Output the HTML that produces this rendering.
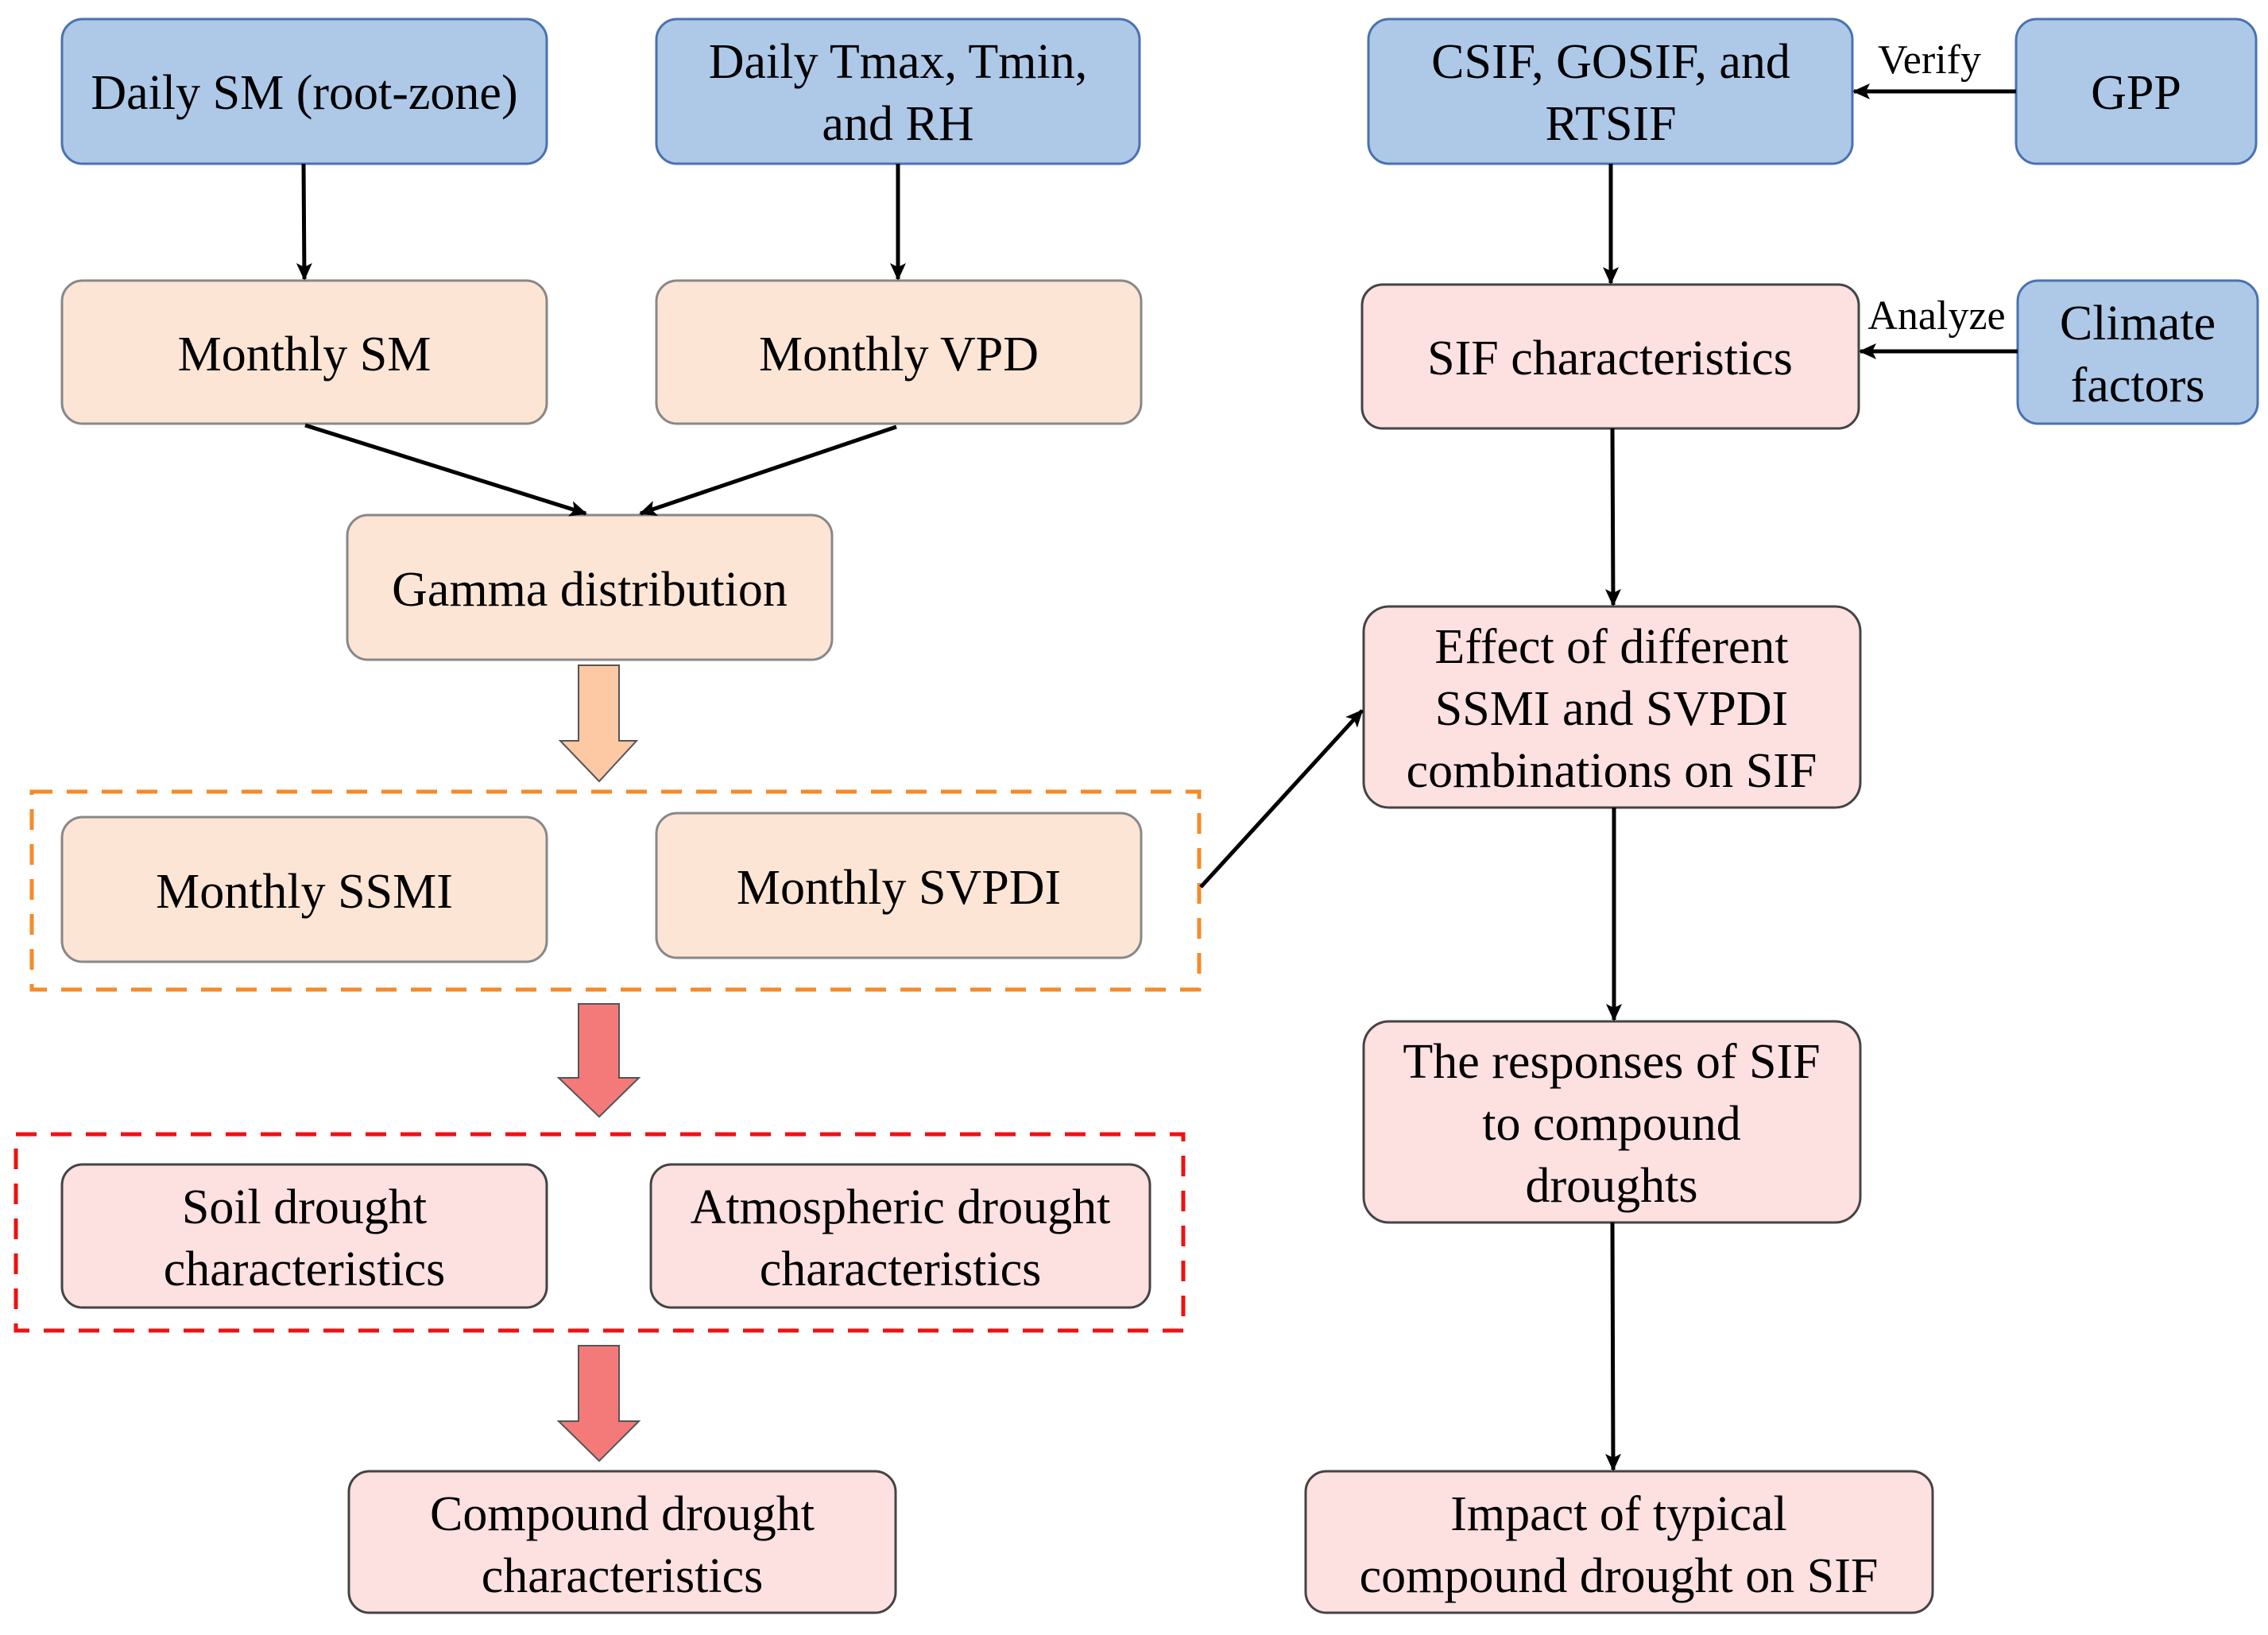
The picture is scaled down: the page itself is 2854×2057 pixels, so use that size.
<!DOCTYPE html>
<html><head><meta charset="utf-8"><style>html,body{margin:0;padding:0;background:#fff}svg{display:block}svg text{font-family:"Liberation Serif","Times New Roman",serif}</style></head>
<body>
<svg width="2854" height="2057" viewBox="0 0 2854 2057" xmlns="http://www.w3.org/2000/svg" font-size="62" text-anchor="middle">
<defs>
<marker id="ah" markerWidth="22" markerHeight="20" refX="20" refY="10" orient="auto" markerUnits="userSpaceOnUse" viewBox="0 0 22 20"><path d="M0,0 L22,10 L0,20 L5,10 z" fill="#000"/></marker>
</defs>
<g stroke-width="3">
<rect x="78" y="24" width="610" height="182" rx="26" fill="#aec8e8" stroke="#4a72b0"/>
<rect x="826" y="24" width="608" height="182" rx="26" fill="#aec8e8" stroke="#4a72b0"/>
<rect x="1722" y="24" width="609" height="182" rx="26" fill="#aec8e8" stroke="#4a72b0"/>
<rect x="2537" y="24" width="302" height="182" rx="26" fill="#aec8e8" stroke="#4a72b0"/>
<rect x="2539" y="353" width="302" height="180" rx="26" fill="#aec8e8" stroke="#4a72b0"/>
<rect x="78" y="353" width="610" height="180" rx="26" fill="#fde5d5" stroke="#888"/>
<rect x="826" y="353" width="610" height="180" rx="26" fill="#fde5d5" stroke="#888"/>
<rect x="437" y="648" width="610" height="182" rx="26" fill="#fde5d5" stroke="#888"/>
<rect x="78" y="1028" width="610" height="182" rx="26" fill="#fde5d5" stroke="#888"/>
<rect x="826" y="1023" width="610" height="182" rx="26" fill="#fde5d5" stroke="#888"/>
<rect x="1714" y="358" width="625" height="181" rx="26" fill="#fde0e0" stroke="#444"/>
<rect x="1716" y="763" width="625" height="253" rx="32" fill="#fde0e0" stroke="#444"/>
<rect x="1716" y="1285" width="625" height="253" rx="32" fill="#fde0e0" stroke="#444"/>
<rect x="1643" y="1851" width="789" height="178" rx="26" fill="#fde0e0" stroke="#444"/>
<rect x="78" y="1465" width="610" height="180" rx="26" fill="#fde0e0" stroke="#444"/>
<rect x="819" y="1465" width="628" height="180" rx="26" fill="#fde0e0" stroke="#444"/>
<rect x="439" y="1851" width="688" height="178" rx="26" fill="#fde0e0" stroke="#444"/>
</g>
<rect x="40" y="996" width="1469" height="249" fill="none" stroke="#f58a2a" stroke-width="5" stroke-dasharray="26,18"/>
<rect x="20" y="1427" width="1469" height="247" fill="none" stroke="#ee1111" stroke-width="5" stroke-dasharray="26,18"/>
<path d="M728,837 H779 V932 H801 L754,983 L705,932 H728 Z" fill="#fdc8a4" stroke="#555" stroke-width="2"/>
<path d="M728,1263 H779 V1356 H804 L754,1405 L703,1356 H728 Z" fill="#f47a7a" stroke="#555" stroke-width="2"/>
<path d="M728,1693 H779 V1788 H804 L754,1838 L703,1788 H728 Z" fill="#f47a7a" stroke="#555" stroke-width="2"/>
<g stroke="#000" stroke-width="5" fill="none" marker-end="url(#ah)">
<line x1="382" y1="206" x2="383" y2="351"/>
<line x1="1130" y1="206" x2="1130" y2="351"/>
<line x1="384" y1="535" x2="737" y2="646"/>
<line x1="1128" y1="537" x2="806" y2="646"/>
<line x1="2027" y1="206" x2="2027" y2="356"/>
<line x1="2537" y1="115" x2="2333" y2="115"/>
<line x1="2539" y1="442" x2="2341" y2="442"/>
<line x1="2029" y1="539" x2="2030" y2="761"/>
<line x1="2031" y1="1016" x2="2031" y2="1283"/>
<line x1="2029" y1="1538" x2="2030" y2="1849"/>
<line x1="1511" y1="1116" x2="1714" y2="894"/>
</g>
<g fill="#000">
<text x="383" y="137">Daily SM (root-zone)</text>
<text x="1130" y="98">Daily Tmax, Tmin,</text>
<text x="1130" y="176">and RH</text>
<text x="2027" y="98">CSIF, GOSIF, and</text>
<text x="2027" y="176">RTSIF</text>
<text x="2688" y="137">GPP</text>
<text x="2690" y="427">Climate</text>
<text x="2690" y="505">factors</text>
<text x="383" y="466">Monthly SM</text>
<text x="1131" y="466">Monthly VPD</text>
<text x="742" y="762">Gamma distribution</text>
<text x="383" y="1142">Monthly SSMI</text>
<text x="1131" y="1137">Monthly SVPDI</text>
<text x="2026" y="471">SIF characteristics</text>
<text x="2028" y="834">Effect of different</text>
<text x="2028" y="912">SSMI and SVPDI</text>
<text x="2028" y="990">combinations on SIF</text>
<text x="2028" y="1356">The responses of SIF</text>
<text x="2028" y="1434">to compound</text>
<text x="2028" y="1512">droughts</text>
<text x="2037" y="1925">Impact of typical</text>
<text x="2037" y="2003">compound drought on SIF</text>
<text x="383" y="1539">Soil drought</text>
<text x="383" y="1617">characteristics</text>
<text x="1133" y="1539">Atmospheric drought</text>
<text x="1133" y="1617">characteristics</text>
<text x="783" y="1925">Compound drought</text>
<text x="783" y="2003">characteristics</text>
<text x="2428" y="92" font-size="52">Verify</text>
<text x="2437" y="414" font-size="52">Analyze</text>
</g>
</svg>
</body></html>
